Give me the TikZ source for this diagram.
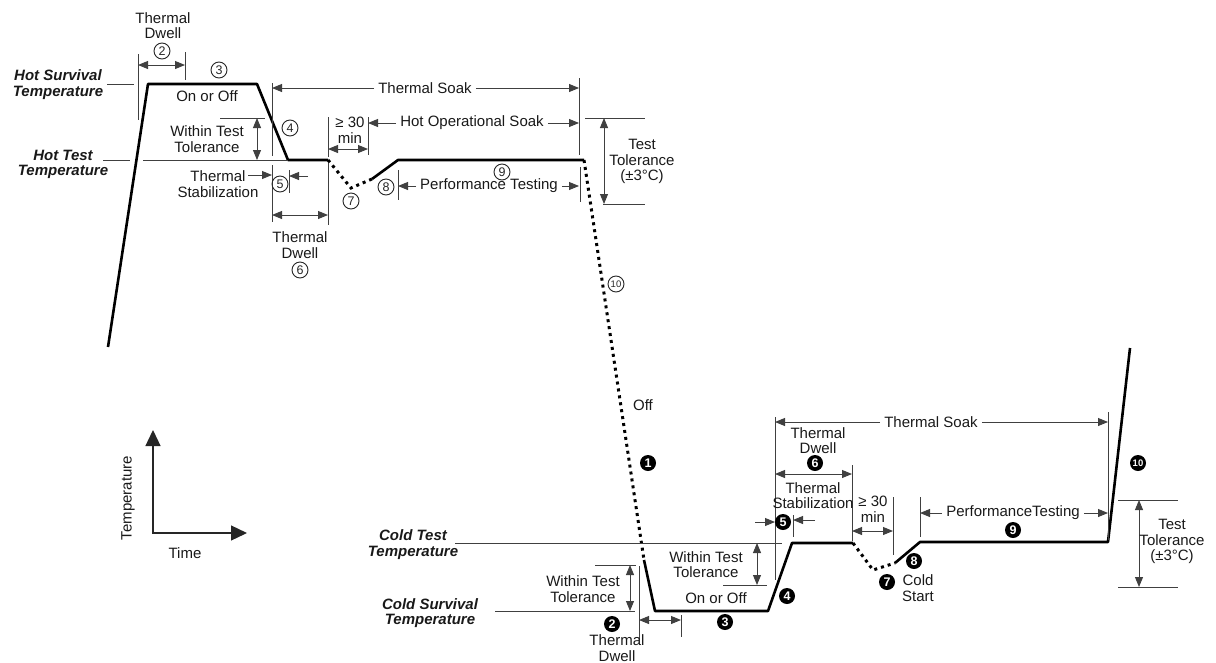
\documentclass[tikz,border=0pt]{standalone}
\usepackage{fontspec}
\setmainfont{Liberation Sans}
\usetikzlibrary{arrows.meta}
\begin{document}
\begin{tikzpicture}[x=1pt,y=-1pt,
  prof/.style={line width=2.6pt, black, line join=round},
  dots/.style={line width=3pt, black, dash pattern=on 3pt off 4pt},
  guide/.style={line width=0.9pt, black!75},
  dim/.style={guide, {Triangle[length=10pt,width=8pt]}-{Triangle[length=10pt,width=8pt]}},
  arr/.style={guide, -{Triangle[length=10pt,width=8pt]}},
  axisline/.style={line width=1.3pt, black!85, {Triangle[length=16pt,width=15pt]}-{Triangle[length=16pt,width=15pt]}},
  lbl/.style={font=\fontsize{15}{15.5}\selectfont, align=center, inner sep=0pt, text=black!90},
  blbl/.style={lbl, font=\fontsize{15}{15.5}\selectfont\bfseries\itshape},
  gap/.style={lbl, inner xsep=4pt},
  wc/.style={circle, draw=black!85, line width=0.9pt, inner sep=0pt, minimum size=16pt, font=\fontsize{12.5}{12.5}\selectfont, text=black!85},
  bc/.style={circle, fill=black, text=white, inner sep=0pt, minimum size=16pt, font=\fontsize{12.5}{12.5}\selectfont\bfseries},
]
\useasboundingbox (0,0) rectangle (1216,662);

% ---- profile points
\coordinate (h0) at (108,347);
\coordinate (h1) at (148,84);
\coordinate (h2) at (257,84);
\coordinate (h3) at (288,160);
\coordinate (h4) at (328,160);
\coordinate (h5) at (351,188);
\coordinate (h6) at (372,179);
\coordinate (h7) at (398,160);
\coordinate (h8) at (584,160);
\coordinate (c0) at (644,560);
\coordinate (c1) at (655,611);
\coordinate (c2) at (768,611);
\coordinate (c3) at (792,543);
\coordinate (c4) at (853,543);
\coordinate (c5) at (873,570);
\coordinate (c6) at (895,563);
\coordinate (c7) at (920,542);
\coordinate (c8) at (1108,542);
\coordinate (c9) at (1130,348);

\draw[prof] (h0) -- (h1) -- (h2) -- (h3) -- (h4);
\draw[dots] (h4) -- (h5) -- (h6);
\draw[prof] (h6) -- (h7) -- (h8);
\draw[dots] (h8) -- (c0);
\draw[prof] (c0) -- (c1) -- (c2) -- (c3) -- (c4);
\draw[dots] (c4) -- (c5) -- (c6);
\draw[prof] (c6) -- (c7) -- (c8) -- (c9);

% ================= HOT SIDE =================
\node[blbl] (hsurv) at (58,84.5) {Hot Survival\\Temperature};
\draw[guide] (107,84) -- (134,84);
\node[blbl] (htest) at (63,164.5) {Hot Test\\Temperature};
\draw[guide] (103,160) -- (130,160);
\draw[guide] (143,160) -- (h3);

% thermal dwell 2
\draw[guide] (138,54) -- (138,120);
\draw[guide] (185,52) -- (185,80);
\draw[dim] (138,65) -- (185,65);
\node[lbl] (hdw2) at (163,25.5) {Thermal\\Dwell};
\node[wc] (n2h) at (162,51) {2};

\node[wc] (n3h) at (219,70) {3};
\node[lbl] (hon) at (207,96) {On or Off};

% within test tolerance (hot)
\node[lbl] (hwtt) at (207,139) {Within Test\\Tolerance};
\draw[guide] (220,118) -- (265,118);
\draw[dim] (257,118) -- (257,160);

% thermal soak (hot)
\draw[guide] (272,83) -- (272,156);
\draw[guide] (272,165) -- (272,222);
\draw[guide] (579,78) -- (579,155);
\node[gap] (hsoak) at (425,88) {Thermal Soak};
\draw[arr] (hsoak.west) -- (272,88);
\draw[arr] (hsoak.east) -- (579,88);

\node[wc] (n4h) at (290,128) {4};

% >= 30 min (hot)
\node[lbl] (h30) at (350,130.5) {≥ 30\\min};
\draw[guide] (328,117) -- (328,157);
\draw[guide] (368,117) -- (368,155);
\draw[dim] (328,149) -- (368,149);

% hot operational soak
\node[gap] (hops) at (472,123) {Hot Operational Soak};
\draw[arr] (hops.west) -- (368,123);
\draw[arr] (hops.east) -- (579,123);

\node[wc] (n7h) at (351,201) {7};
\node[wc] (n8h) at (386,187) {8};
\node[wc] (n9h) at (502,172) {9};

% performance testing (hot)
\draw[guide] (398,170) -- (398,200);
\draw[guide] (580,167) -- (580,202);
\node[gap] (hpt) at (489,186) {Performance Testing};
\draw[arr] (hpt.west) -- (398,186);
\draw[arr] (hpt.east) -- (579,186);

% thermal stabilization (hot)
\node[lbl] (hstab) at (218,184) {Thermal\\Stabilization};
\draw[arr] (248,175) -- (272,175);
\node[wc] (n5h) at (280,184) {5};
\draw[arr] (308,176) -- (289,176);
\draw[guide] (289,170) -- (289,193);

% thermal dwell 6 (hot)
\draw[guide] (328,163) -- (328,225);
\draw[dim] (272,215) -- (328,215);
\node[lbl] (hdw6) at (300,245) {Thermal\\Dwell};
\node[wc] (n6h) at (300,270) {6};

% test tolerance (hot)
\draw[guide] (585,118) -- (645,118);
\draw[guide] (603,204) -- (645,204);
\draw[dim] (604,118) -- (604,204);
\node[lbl] (httol) at (642,161.5) {Test\\Tolerance\\(±3°C)};

\node[wc, font=\fontsize{9.5}{9.5}\selectfont] (n10h) at (616,284) {10};
\node[lbl] (off) at (643,405) {Off};
\node[bc] (n1c) at (648,463) {1};

% axes
\coordinate (ax0) at (153,533);
\coordinate (ay) at (153,430);
\coordinate (axx) at (247,533);
\draw[axisline] (ay) -- (ax0) -- (axx);
\node[lbl, rotate=90] (tlab) at (128,498) {Temperature};
\node[lbl] (time) at (185,553) {Time};

% ================= COLD SIDE =================
\node[blbl] (ctest) at (413,544.5) {Cold Test\\Temperature};
\draw[guide] (455,543) -- (782,543);
\node[blbl] (csurv) at (430,613) {Cold Survival\\Temperature};
\draw[guide] (495,611) -- (635,611);

% within test tolerance (cold lower)
\node[lbl] (cwtt1) at (583,589) {Within Test\\Tolerance};
\draw[guide] (595,565) -- (636,565);
\draw[dim] (630,565) -- (630,611);

% thermal dwell 2 (cold)
\draw[guide] (639,566) -- (639,640);
\draw[guide] (681,615) -- (681,637);
\draw[dim] (639,620) -- (681,620);
\node[bc] (n2c) at (612,624) {2};
\node[lbl] (cdw2) at (617,648) {Thermal\\Dwell};

\node[lbl] (con) at (716,598) {On or Off};
\node[bc] (n3c) at (725,622) {3};
\node[bc] (n4c) at (787,596) {4};

% within test tolerance (cold upper)
\node[lbl] (cwtt2) at (706,564.5) {Within Test\\Tolerance};
\draw[dim] (757,543) -- (757,585);
\draw[guide] (723,585) -- (767,585);

% thermal soak (cold)
\draw[guide] (775,417) -- (775,580);
\draw[guide] (1108,412) -- (1108,540);
\node[gap] (csoak) at (931,422) {Thermal Soak};
\draw[arr] (csoak.west) -- (775,422);
\draw[arr] (csoak.east) -- (1108,422);

% thermal dwell 6 (cold)
\node[lbl] (cdw6) at (818,440.5) {Thermal\\Dwell};
\node[bc] (n6c) at (815,463) {6};
\draw[dim] (775,474) -- (852,474);
\draw[guide] (852,465) -- (852,541);

% thermal stabilization (cold)
\node[lbl] (cstab) at (813,495.5) {Thermal\\Stabilization};
\draw[arr] (755,522) -- (775,522);
\node[bc] (n5c) at (783,522) {5};
\draw[arr] (815,520) -- (793,520);
\draw[guide] (793,515) -- (793,537);

% >= 30 min (cold)
\node[lbl] (c30) at (873,509.5) {≥ 30\\min};
\draw[guide] (893,497) -- (893,555);
\draw[dim] (852,531) -- (893,531);

% performance testing (cold)
\draw[guide] (920,497) -- (920,537);
\node[gap] (cpt) at (1013,513) {PerformanceTesting};
\draw[arr] (cpt.west) -- (920,513);
\draw[arr] (cpt.east) -- (1108,513);

\node[bc] (n9c) at (1013,530) {9};
\node[bc] (n8c) at (914,561) {8};
\node[lbl] (cstart) at (918,588) {Cold\\Start};
\node[bc] (n7c) at (887,582) {7};
\node[bc, font=\fontsize{9.5}{9.5}\selectfont\bfseries] (n10c) at (1138,463) {10};

% test tolerance (cold)
\draw[guide] (1118,500) -- (1178,500);
\draw[guide] (1118,587) -- (1178,587);
\draw[dim] (1139,500) -- (1139,587);
\node[lbl] (cttol) at (1172,541.5) {Test\\Tolerance\\(±3°C)};
\end{tikzpicture}
\end{document}
